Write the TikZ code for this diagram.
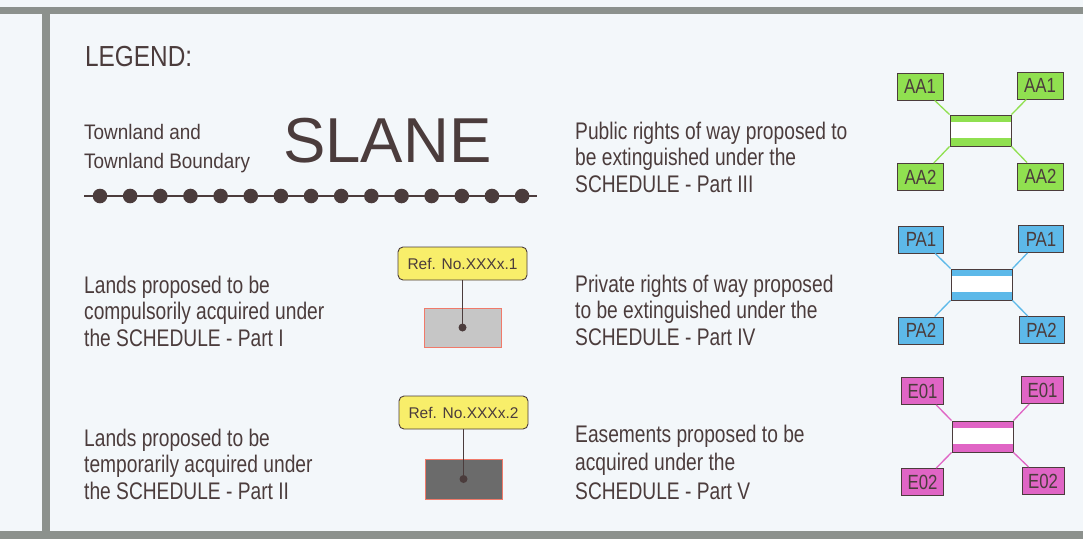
\documentclass[tikz,border=0pt]{standalone}
\usepackage{fontspec}
\setmainfont{Liberation Sans}
\newfontfamily\narrowf[FakeStretch=0.8]{Liberation Sans}
\newfontfamily\townf[FakeStretch=0.9]{Liberation Sans}
\newfontfamily\legf[FakeStretch=0.84]{Liberation Sans}
\newfontfamily\labf[FakeStretch=0.82]{Liberation Sans}
\definecolor{textc}{HTML}{4B3C3C}
\definecolor{framec}{HTML}{8C918D}
\definecolor{bgc}{HTML}{F3F7FA}
\definecolor{greenc}{HTML}{90E050}
\definecolor{bluec}{HTML}{5DB9E9}
\definecolor{magc}{HTML}{E065C5}
\definecolor{yelc}{HTML}{F8EE6A}
\definecolor{lgrayc}{HTML}{C6C6C6}
\definecolor{dgrayc}{HTML}{6B6B6B}
\definecolor{salmc}{HTML}{F07A6A}
\tikzset{
  body/.style={anchor=base west, inner sep=0pt, align=left, text=textc,
    font=\narrowf\fontsize{24}{26.5}\selectfont},
  codebox/.style={draw=textc, line width=0.9pt, fill=#1, inner sep=0pt,
    minimum height=27pt, text=textc, font=\labf\fontsize{20.5}{20.5}\selectfont},
  stripebox/.style={draw=textc, line width=0.9pt, fill=white, inner sep=0pt,
    minimum width=61pt, minimum height=31pt,
    path picture={
      \fill[#1] (path picture bounding box.north west) rectangle ([yshift=-7pt]path picture bounding box.north east);
      \fill[#1] (path picture bounding box.south west) rectangle ([yshift=8pt]path picture bounding box.south east);
    }},
  link/.style={draw=#1, line width=1.3pt},
  refbox/.style={draw=textc, line width=0.9pt, fill=yelc, rounded corners=5pt,
    minimum width=129pt, minimum height=33pt, inner sep=0pt, text=textc,
    font=\fontsize{15.5}{15.5}\selectfont},
  landbox/.style={draw=salmc, line width=1pt, fill=#1, minimum width=77pt,
    minimum height=39pt, inner sep=0pt},
  stem/.style={draw=textc, line width=1.1pt},
}
\begin{document}
\begin{tikzpicture}[x=1pt,y=-1pt]
\useasboundingbox (0,0) rectangle (1083,539);
\fill[bgc] (0,0) rectangle (1083,539);
% frame
\fill[framec] (0,7) rectangle (1083,14);
\fill[framec] (0,531) rectangle (1083,539);
\fill[framec] (42,7) rectangle (50,539);

% legend title
\node[anchor=base west, inner sep=0pt, text=textc, font=\legf\fontsize{29}{29}\selectfont] (legend) at (85,66) {LEGEND:};

% townland
\node[anchor=base west, inner sep=0pt, align=left, text=textc, font=\townf\fontsize{21}{29}\selectfont] (town) at (84,168) {Townland and\\Townland Boundary};
\node[anchor=base west, inner sep=0pt, text=textc, font=\fontsize{63.5}{63.5}\selectfont] (slane) at (283,162) {SLANE};
\draw[textc, line width=2.7pt] (84,196) -- (537,196);
\foreach \i in {0,...,14} {
  \fill[textc] ({100+30.15*\i},196) circle (7.3pt);
}

% left texts
\node[body] (t1) at (84,346) {Lands proposed to be\\compulsorily acquired under\\the SCHEDULE - Part I};
\node[body] (t2) at (84,499) {Lands proposed to be\\temporarily acquired under\\the SCHEDULE - Part II};

% ref boxes
\node[landbox=lgrayc] (land1) at (462.5,327.5) {};
\node[refbox] (ref1) at (462.5,263.5) {Ref. No.XXXx.1};
\draw[stem] (ref1.south) -- (land1.center);
\fill[textc] (land1.center) circle (4pt);

\node[landbox=dgrayc, minimum height=40pt] (land2) at (463.5,479) {};
\node[refbox] (ref2) at (463.5,412.5) {Ref. No.XXXx.2};
\draw[stem] (ref2.south) -- (land2.center);
\fill[textc] (land2.center) circle (4pt);

% middle texts
\node[body] (t3) at (575,192) {Public rights of way proposed to\\be extinguished under the\\SCHEDULE - Part III};
\node[body] (t4) at (575,345) {Private rights of way proposed\\to be extinguished under the\\SCHEDULE - Part IV};
\node[body, font=\narrowf\fontsize{24}{28.5}\selectfont] (t5) at (575,499) {Easements proposed to be\\acquired under the\\SCHEDULE - Part V};

% AA group
\node[stripebox=greenc] (aar) at (980.5,130.5) {};
\node[codebox=greenc, minimum width=46pt] (aa1l) at (920,86.5) {AA1};
\node[codebox=greenc, minimum width=46pt] (aa1r) at (1040,85.5) {AA1};
\node[codebox=greenc, minimum width=46pt] (aa2l) at (920.5,177) {AA2};
\node[codebox=greenc, minimum width=46pt] (aa2r) at (1040.5,176.5) {AA2};
\draw[link=greenc] (aar.north west) -- (aa1l);
\draw[link=greenc] (aar.north east) -- (aa1r);
\draw[link=greenc] (aar.south west) -- (aa2l);
\draw[link=greenc] (aar.south east) -- (aa2r);

% PA group
\node[stripebox=bluec] (par) at (981.5,284.5) {};
\node[codebox=bluec, minimum width=45pt] (pa1l) at (921,239.5) {PA1};
\node[codebox=bluec, minimum width=45pt] (pa1r) at (1041,239) {PA1};
\node[codebox=bluec, minimum width=45pt] (pa2l) at (921,330.5) {PA2};
\node[codebox=bluec, minimum width=45pt] (pa2r) at (1041.5,330) {PA2};
\draw[link=bluec] (par.north west) -- (pa1l);
\draw[link=bluec] (par.north east) -- (pa1r);
\draw[link=bluec] (par.south west) -- (pa2l);
\draw[link=bluec] (par.south east) -- (pa2r);

% E group
\node[stripebox=magc] (er) at (982.5,436.5) {};
\node[codebox=magc, minimum width=42pt] (e1l) at (922.5,391) {E01};
\node[codebox=magc, minimum width=42pt] (e1r) at (1042.5,390) {E01};
\node[codebox=magc, minimum width=42pt] (e2l) at (922.5,482) {E02};
\node[codebox=magc, minimum width=42pt] (e2r) at (1043,481) {E02};
\draw[link=magc] (er.north west) -- (e1l);
\draw[link=magc] (er.north east) -- (e1r);
\draw[link=magc] (er.south west) -- (e2l);
\draw[link=magc] (er.south east) -- (e2r);
\end{tikzpicture}
\end{document}
